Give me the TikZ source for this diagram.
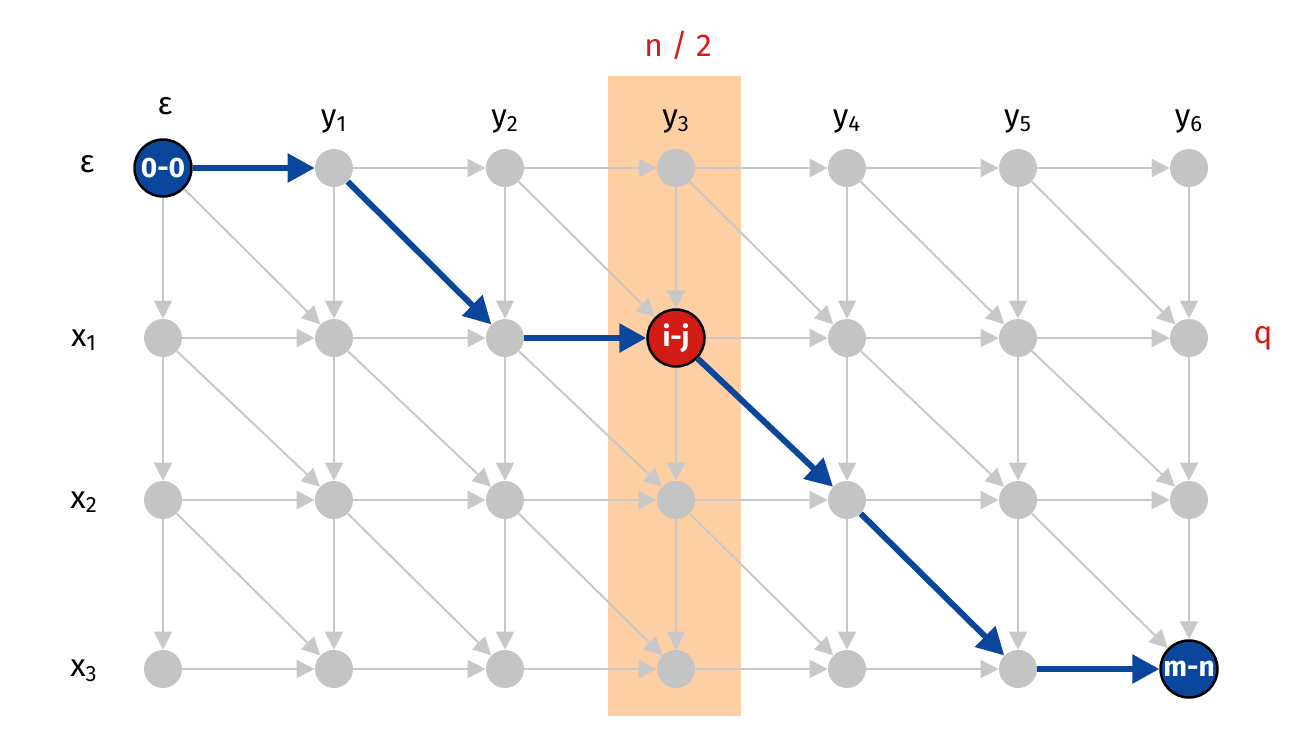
\documentclass[tikz,border=0pt]{standalone}
\usepackage{fontspec}
\setmainfont{Fira Sans}
\usetikzlibrary{arrows.meta}
\definecolor{nodegray}{HTML}{C4C4C4}
\definecolor{edgegray}{HTML}{C8C8C8}
\definecolor{pathblue}{HTML}{0A479C}
\definecolor{midred}{HTML}{D21C15}
\definecolor{bandorange}{HTML}{FDCFA3}
\begin{document}
\begin{tikzpicture}[
    x=0.02cm, y=-0.02cm,
    vertex/.style={circle, fill=nodegray, inner sep=0pt, minimum size=0.76cm},
    special/.style={circle, draw=black, line width=0.05cm, inner sep=0pt, minimum size=1.14cm,
        text=white, font=\fontsize{16}{18}\selectfont\bfseries},
    grayedge/.style={-{Triangle[length=0.36cm, width=0.36cm]}, draw=edgegray, line width=0.04cm},
    blueedge/.style={-{Triangle[length=0.54cm, width=0.56cm]}, draw=pathblue, line width=0.12cm},
    lbl/.style={font=\fontsize{18}{20}\selectfont}
]
    \useasboundingbox (0,0) rectangle (1308,744);
    \fill[bandorange] (608,76) rectangle (741,716);

    % grid of nodes
    \foreach \r/\yy in {0/168, 1/338, 2/500, 3/669}
        \foreach \k in {0,...,6}
            \node[vertex] (n\r\k) at ({163+171*\k},\yy) {};

    \node[special, fill=pathblue] (n00) at (n00) {0-0};
    \node[special, fill=midred] (n13) at (n13) {i-j};
    \node[special, fill=pathblue] (n36) at (n36) {m-n};

    % gray edges
    \foreach \r in {0,...,3} {
        \foreach \k in {0,...,5} {
            \pgfmathtruncatemacro{\kk}{\k+1}
            \draw[grayedge] (n\r\k) -- (n\r\kk);
        }
    }
    \foreach \r in {0,...,2} {
        \pgfmathtruncatemacro{\rr}{\r+1}
        \foreach \k in {0,...,6}
            \draw[grayedge] (n\r\k) -- (n\rr\k);
        \foreach \k in {0,...,5} {
            \pgfmathtruncatemacro{\kk}{\k+1}
            \draw[grayedge] (n\r\k) -- (n\rr\kk);
        }
    }

    % the path
    \draw[blueedge] (n00) -- (n01);
    \draw[blueedge] (n01) -- (n12);
    \draw[blueedge] (n12) -- (n13);
    \draw[blueedge] (n13) -- (n24);
    \draw[blueedge] (n24) -- (n35);
    \draw[blueedge] (n35) -- (n36);

    % labels
    \node[lbl] (col0) at (165,106) {ε};
    \foreach \k in {1,...,6}
        \node[lbl] (col\k) at ({163+171*\k},122) {y\textsubscript{\k}};
    \node[lbl] (row0) at (87,164) {ε};
    \foreach \r/\yy in {1/340, 2/502, 3/671}
        \node[lbl] (row\r) at (84,\yy) {x\textsubscript{\r}};
    \node[lbl, text=midred] (half) at (678,45) {n / 2};
    \node[lbl, text=midred] (qlbl) at (1263,338) {q};
\end{tikzpicture}
\end{document}
